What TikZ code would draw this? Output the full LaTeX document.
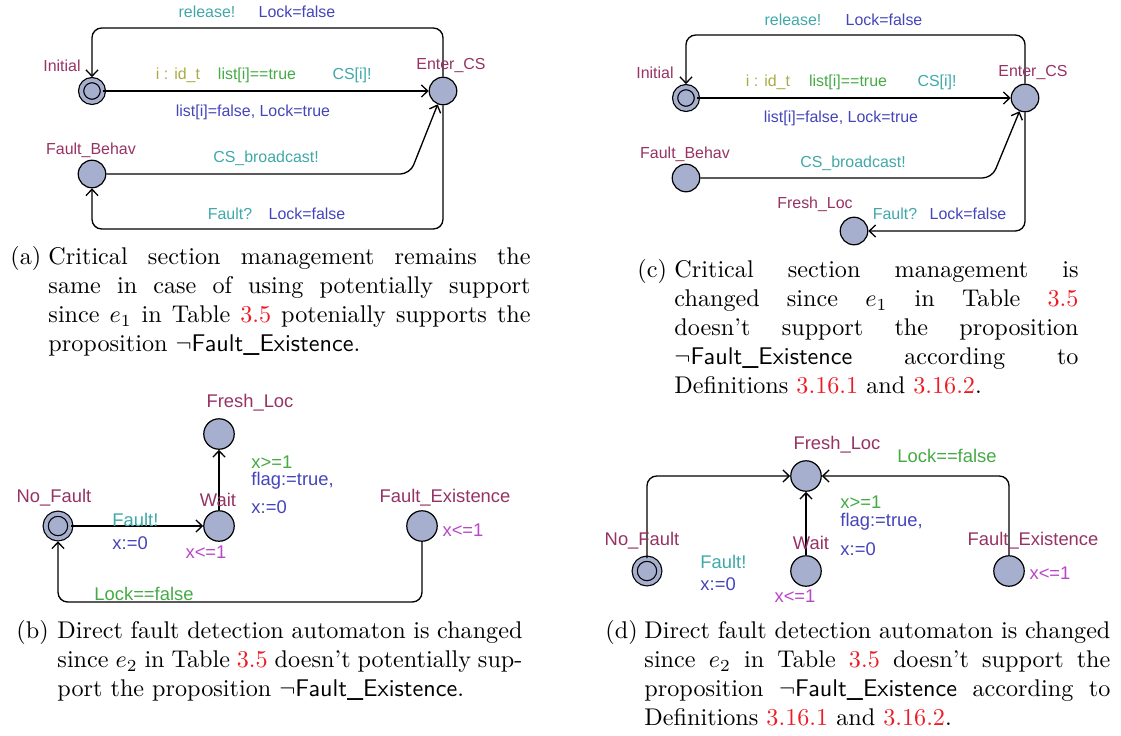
\documentclass[tikz,border=0pt]{standalone}
\usepackage{fontspec}
\usepackage{xcolor}
\usetikzlibrary{
    arrows.meta,
    positioning
}
\newfontfamily\uppfont{Liberation Sans}
\definecolor{locFill}{RGB}{166,175,206}
\definecolor{nameC}{RGB}{150,50,100}
\definecolor{syncC}{RGB}{64,168,168}
\definecolor{guardC}{RGB}{68,170,68}
\definecolor{assignC}{RGB}{68,68,187}
\definecolor{selC}{RGB}{170,170,68}
\definecolor{invC}{RGB}{185,70,200}
\definecolor{refC}{RGB}{237,28,36}
\tikzset{
  loc/.style     = {circle, draw, fill=locFill, line width=0.5pt,
                    inner sep=0pt, minimum size=11.4pt},
  bigloc/.style  = {loc, minimum size=12.6pt},
  initloc/.style = {loc, double=locFill, double distance=1.6pt,
                    minimum size=9.0pt},
  biginit/.style = {initloc, minimum size=10.2pt},
  trans/.style   = {-{Straight Barb[length=2.6pt, width=5pt]},
                    line width=0.55pt, rounded corners=4pt},
  sml/.style     = {font=\uppfont\fontsize{6.6}{8}\selectfont, inner sep=0pt},
  lrg/.style     = {font=\uppfont\fontsize{7.6}{9}\selectfont, inner sep=0pt},
  captext/.style = {anchor=north west, inner sep=0pt, align=justify,
                    font=\normalsize},
  captag/.style  = {anchor=north west, inner sep=0pt, font=\normalsize}
}
\newcommand{\tabref}[1]{\textcolor{refC}{#1}}
\newcommand{\faultex}{$\neg$\textsf{Fault\_Existence}}

\begin{document}
\begin{tikzpicture}[x=0.4138pt, y=-0.4138pt]
  \useasboundingbox (0,0) rectangle (1121,735);

  %% ── (a) critical section, unchanged ───────────────────────────
  \node[initloc] (iniA) at ( 92, 91) {};
  \node[loc]     (enA)  at (443, 91) {};
  \node[loc]     (fbA)  at ( 92,174) {};
  \coordinate (topA)  at ( 92, 28);
  \coordinate (bendA) at (410,174);
  \coordinate (botA)  at ( 92,229);

  \draw[trans] (iniA) -- (enA);
  \draw[trans, shorten >=1pt] (enA.north) |- (topA) -- (iniA.north);
  \draw[trans] (fbA) -- (bendA) -- (enA);
  \draw[trans] (enA.south) |- (botA) -- (fbA.south);

  \node[sml, nameC]   (nIniA) at ( 62, 66) {Initial};
  \node[sml, nameC]   (nEnA)  at (451, 66) {Enter\_CS};
  \node[sml, nameC]   (nFbA)  at ( 91,150) {Fault\_Behav};
  \node[sml, syncC]   (relA)  at (207, 12) {release!};
  \node[sml, assignC] (lkA)   at (297, 12) {Lock=false};
  \node[sml, selC]    (selA)  at (178, 75) {i : id\_t};
  \node[sml, guardC]  (grdA)  at (257, 75) {list[i]==true};
  \node[sml, syncC]   (csA)   at (352, 75) {CS[i]!};
  \node[sml, assignC] (asgA)  at (253,112) {list[i]=false, Lock=true};
  \node[sml, syncC]   (bcA)   at (266,158) {CS\_broadcast!};
  \node[sml, syncC]   (ftA)   at (230,214) {Fault?};
  \node[sml, assignC] (lk2A)  at (307,214) {Lock=false};

  %% ── (c) critical section, changed ─────────────────────────────
  \node[initloc] (iniC) at ( 686, 98) {};
  \node[loc]     (enC)  at (1025, 98) {};
  \node[loc]     (fbC)  at ( 686,178) {};
  \node[loc]     (flC)  at ( 854,231) {};
  \coordinate (topC)  at ( 686, 35);
  \coordinate (bendC) at ( 992,178);

  \draw[trans] (iniC) -- (enC);
  \draw[trans, shorten >=1pt] (enC.north) |- (topC) -- (iniC.north);
  \draw[trans] (fbC) -- (bendC) -- (enC);
  \draw[trans] (enC.south) |- (flC);

  \node[sml, nameC]   (nIniC) at ( 655, 73) {Initial};
  \node[sml, nameC]   (nEnC)  at (1033, 73) {Enter\_CS};
  \node[sml, nameC]   (nFbC)  at ( 685,154) {Fault\_Behav};
  \node[sml, nameC]   (nFlC)  at ( 815,204) {Fresh\_Loc};
  \node[sml, syncC]   (relC)  at ( 793, 20) {release!};
  \node[sml, assignC] (lkC)   at ( 884, 20) {Lock=false};
  \node[sml, selC]    (selC)  at ( 768, 82) {i : id\_t};
  \node[sml, guardC]  (grdC)  at ( 848, 82) {list[i]==true};
  \node[sml, syncC]   (csC)   at ( 937, 82) {CS[i]!};
  \node[sml, assignC] (asgC)  at ( 841,118) {list[i]=false, Lock=true};
  \node[sml, syncC]   (bcC)   at ( 853,163) {CS\_broadcast!};
  \node[sml, syncC]   (ftC)   at ( 895,214) {Fault?};
  \node[sml, assignC] (lk2C)  at ( 968,214) {Lock=false};

  %% ── (b) fault detection, first version ────────────────────────
  \node[biginit] (nfB) at ( 58,526) {};
  \node[bigloc]  (wtB) at (219,526) {};
  \node[bigloc]  (flB) at (219,434) {};
  \node[bigloc]  (feB) at (422,526) {};
  \coordinate (botB) at (58,602);

  \draw[trans] (nfB) -- (wtB);
  \draw[trans] (wtB) -- (flB);
  \draw[trans, shorten >=1pt] (feB.south) |- (botB) -- (nfB.south);

  \node[lrg, nameC]   (nFlB)  at (250,403) {Fresh\_Loc};
  \node[lrg, nameC]   (nNfB)  at ( 54,498) {No\_Fault};
  \node[lrg, nameC]   (nWtB)  at (218,500) {Wait};
  \node[lrg, nameC]   (nFeB)  at (445,498) {Fault\_Existence};
  \node[lrg, syncC,   anchor=west] (ftB)  at (112,520) {Fault!};
  \node[lrg, assignC, anchor=west] (rsB)  at (112,543) {x:=0};
  \node[lrg, invC]    (ivWB)  at (206,552) {x<=1};
  \node[lrg, invC]    (ivFB)  at (463,530) {x<=1};
  \node[lrg, guardC,  anchor=west] (gdB)  at (251,462) {x>=1};
  \node[lrg, assignC, anchor=west] (fgB)  at (251,481) {flag:=true,};
  \node[lrg, assignC, anchor=west] (rs2B) at (251,507) {x:=0};
  \node[lrg, guardC]  (lkB)   at (144,594) {Lock==false};

  %% ── (d) fault detection, changed ──────────────────────────────
  \node[biginit] (nfD) at ( 647,571) {};
  \node[bigloc]  (wtD) at ( 806,571) {};
  \node[bigloc]  (flD) at ( 806,476) {};
  \node[bigloc]  (feD) at (1009,571) {};

  \draw[trans] (nfD.north) |- (flD);
  \draw[trans] (wtD) -- (flD);
  \draw[trans] (feD.north) |- (flD);

  \node[lrg, nameC]   (nFlD)  at ( 837,445) {Fresh\_Loc};
  \node[lrg, guardC]  (lkD)   at ( 947,456) {Lock==false};
  \node[lrg, guardC,  anchor=west] (gdD)  at (840,502) {x>=1};
  \node[lrg, assignC, anchor=west] (fgD)  at (840,522) {flag:=true,};
  \node[lrg, assignC, anchor=west] (rs2D) at (840,549) {x:=0};
  \node[lrg, nameC]   (nNfD)  at ( 642,541) {No\_Fault};
  \node[lrg, nameC]   (nWtD)  at ( 811,543) {Wait};
  \node[lrg, nameC]   (nFeD)  at (1033,541) {Fault\_Existence};
  \node[lrg, syncC,   anchor=west] (ftD)  at (700,562) {Fault!};
  \node[lrg, assignC, anchor=west] (rsD)  at (700,584) {x:=0};
  \node[lrg, invC]    (ivWD)  at ( 795,596) {x<=1};
  \node[lrg, invC]    (ivFD)  at (1050,573) {x<=1};

  %% ── Captions ──────────────────────────────────────────────────
  \node[captag] (tagA) at (10,244) {\strut(a)};
  \node[captext, text width=199.5pt] (capA) at (48,244) {%
    \strut Critical section management remains the\linebreak
    same in case of using potentially support\linebreak
    since $e_1$ in Table \tabref{3.5} potenially supports the\linebreak
    proposition \faultex.};

  \node[captag] (tagB) at (16,618) {\strut(b)};
  \node[captext, text width=192.4pt] (capB) at (57,618) {%
    \strut Direct fault detection automaton is changed\linebreak
    since $e_2$ in Table \tabref{3.5} doesn't potentially sup-\linebreak
    port the proposition \faultex.};

  \node[captag] (tagC) at (637,257) {\strut(c)};
  \node[captext, text width=167.2pt] (capC) at (674,257) {%
    \strut Critical section management is\linebreak
    changed since $e_1$ in Table \tabref{3.5}\linebreak
    doesn't support the proposition\linebreak
    \faultex{} according to\linebreak
    Definitions \tabref{3.16.1} and \tabref{3.16.2}.};

  \node[captag] (tagD) at (605,618) {\strut(d)};
  \node[captext, text width=192.8pt] (capD) at (644,618) {%
    \strut Direct fault detection automaton is changed\linebreak
    since $e_2$ in Table \tabref{3.5} doesn't support the\linebreak
    proposition \faultex{} according to\linebreak
    Definitions \tabref{3.16.1} and \tabref{3.16.2}.};

\end{tikzpicture}
\end{document}
